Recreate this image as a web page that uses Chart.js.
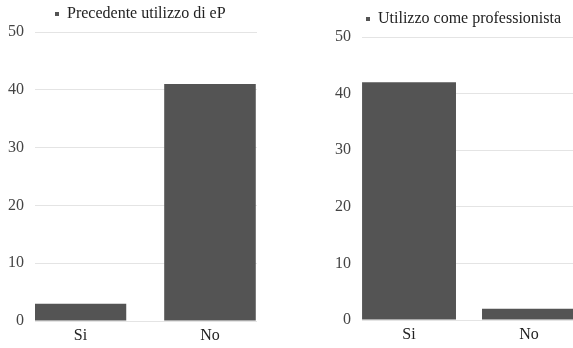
<!DOCTYPE html>
<html>
<head>
<meta charset="utf-8">
<script src="https://cdn.jsdelivr.net/npm/chart.js@4/dist/chart.umd.min.js"></script>
<style>
  html, body { margin: 0; padding: 0; background: #ffffff; overflow: hidden; width: 573px; height: 348px; }
  canvas { position: absolute; top: 0; }
  #left { left: 0; }
  #right { left: 300px; }
</style>
</head>
<body>
<canvas id="left" width="257" height="348"></canvas>
<canvas id="right" width="276" height="348"></canvas>
<script>
// Answers on the x axis
const categories = ['Si', 'No'];

// Left panel: previous use of eP
const previousUseLabel = 'Precedente utilizzo di eP';
const previousUse = [3, 41];

// Right panel: use as a professional
const professionalUseLabel = 'Utilizzo come professionista';
const professionalUse = [42, 2];

// Value axis
const yMin = 0;
const yMax = 50;
const yStep = 10;

const FONT = "'Liberation Serif', 'Times New Roman', serif";
const BAR = '#545454';
const GRID = '#e4e4e4';

function makeChart(id, label, values, opts) {
  const points = values.map((v, i) => ({ x: i, y: v }));
  return new Chart(document.getElementById(id), {
    type: 'bar',
    data: {
      datasets: [{
        label: label,
        data: points,
        backgroundColor: BAR,
        borderWidth: 0,
        categoryPercentage: 1,
        barPercentage: opts.barPct
      }]
    },
    options: {
      responsive: false,
      animation: false,
      devicePixelRatio: 1,
      layout: { padding: { left: 0, right: 0, top: opts.padTop, bottom: 0 } },
      plugins: {
        tooltip: { enabled: false },
        legend: {
          display: true,
          position: 'top',
          align: 'start',
          fullSize: false,
          labels: {
            boxWidth: 4,
            boxHeight: 4,
            padding: opts.legendPad,
            color: '#222222',
            font: { family: FONT, size: 16 }
          }
        }
      },
      scales: {
        x: {
          type: 'linear',
          offset: false,
          min: opts.xMin,
          max: opts.xMax,
          grid: { display: false, drawTicks: false },
          border: { display: false },
          afterBuildTicks: (scale) => {
            scale.ticks = categories.map((_, i) => ({ value: i }));
          },
          afterFit: (scale) => { scale.height = opts.xHeight; },
          ticks: {
            padding: 5,
            color: '#222222',
            font: { family: FONT, size: 16 },
            callback: (v) => categories[v]
          }
        },
        y: {
          min: yMin,
          max: yMax,
          grid: { color: GRID, drawTicks: false },
          border: { display: false },
          afterFit: (scale) => { scale.width = opts.yWidth; },
          ticks: {
            stepSize: yStep,
            padding: 11,
            color: '#444444',
            font: { family: FONT, size: 16 }
          }
        }
      }
    }
  });
}

makeChart('left', previousUseLabel, previousUse, {
  barPct: 0.707, xMin: -0.351, xMax: 1.363,
  yWidth: 35, padTop: -14, legendPad: 20, xHeight: 27
});

makeChart('right', professionalUseLabel, professionalUse, {
  barPct: 0.783, xMin: -0.392, xMax: 1.392,
  yWidth: 62, padTop: 7, legendPad: 4, xHeight: 28
});
</script>
</body>
</html>
